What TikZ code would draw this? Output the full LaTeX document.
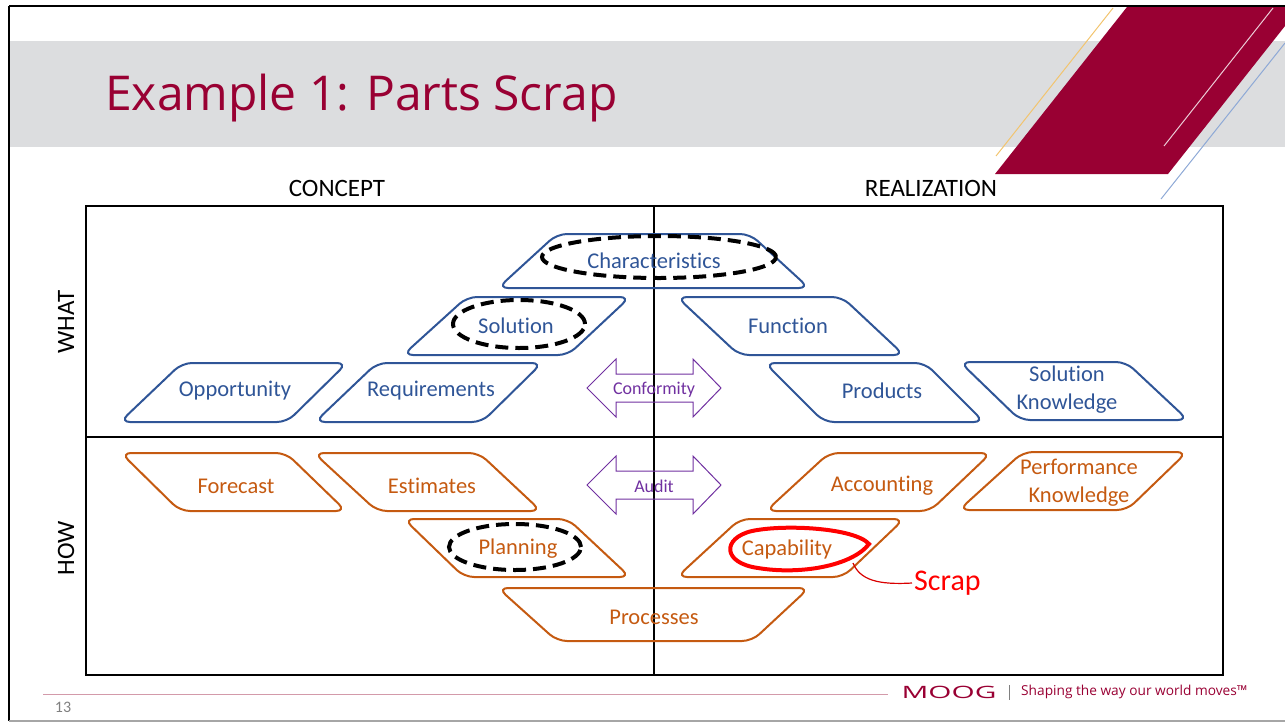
\documentclass[tikz,border=0pt]{standalone}
\usepackage{fontspec}
\setmainfont{Carlito}[Ligatures=NoCommon]
\newfontfamily\osans{Open Sans}
\definecolor{myblue}{HTML}{2F5597}
\definecolor{myorange}{HTML}{C55A11}
\definecolor{mypurple}{HTML}{7030A0}
\definecolor{crimson}{HTML}{990033}
\definecolor{bandgray}{HTML}{DCDDDF}
\definecolor{gold}{HTML}{F2C46E}
\definecolor{lblue}{HTML}{8EA9D6}
\definecolor{footpink}{HTML}{D39AAA}
\tikzset{
  bshape/.style={draw=myblue, line width=2pt, rounded corners=10pt},
  oshape/.style={draw=myorange, line width=2pt, rounded corners=10pt},
  lbl/.style={font=\fontsize{22.5}{28}\selectfont, align=center, inner sep=1pt},
  btext/.style={lbl, text=myblue},
  otext/.style={lbl, text=myorange},
  dashell/.style={draw=black, line width=4pt, dash pattern=on 13pt off 7pt},
  dblarrow/.style={draw=mypurple, line width=1pt},
  atext/.style={font=\fontsize{18}{20}\selectfont, text=mypurple, inner sep=0pt},
  axis/.style={font=\fontsize{25}{28}\selectfont, text=black},
}
\begin{document}
\begin{tikzpicture}[x=1pt,y=-1pt]
\useasboundingbox (0,0) rectangle (1285,723);
% header band
\fill[bandgray] (10,41) rectangle (1285,147);
% frame
\draw[black, line width=2.5pt] (9,6) -- (1285,6);
\draw[black, line width=2.5pt] (9,6) -- (9,721);
\draw[gray!70, line width=1.2pt] (9,721) -- (1285,721);
% corner decoration
\draw[gold, line width=1pt] (996,156) -- (1113,8);
\fill[crimson] (995,174) -- (1127,7) -- (1300,7) -- (1168,174) -- cycle;
\draw[white!80!crimson, line width=1pt] (1164,146) -- (1273,8);
\draw[lblue, line width=1pt] (1161,199) -- (1285,43);
% title
\node[anchor=base west, inner sep=0pt, text=crimson, font=\osans\fontsize{48}{54}\selectfont] (title) at (105,110) {Example 1: Parts Scrap};
% axis labels
\node[axis] (concept) at (337,188) {CONCEPT};
\node[axis] (realization) at (931,188) {REALIZATION};
\node[axis, rotate=90] (what) at (66,322) {WHAT};
\node[axis, rotate=90] (how) at (66,548) {HOW};
% main box
\draw[black, line width=1.3pt] (86,206) rectangle (1223,675);
\draw[black, line width=1.3pt] (654,206) -- (654,675);
\draw[black, line width=1.3pt] (86,437) -- (1223,437);
% blue shapes
\draw[bshape] (557,234) -- (750,234) -- (809,288) -- (498,288) -- cycle;
\draw[bshape] (467,297) -- (630,297) -- (568,355) -- (403,355) -- cycle;
\draw[bshape] (677,297) -- (842,297) -- (904,355) -- (739,355) -- cycle;
\draw[bshape] (182,363) -- (347,363) -- (287,422) -- (120,422) -- cycle;
\draw[bshape] (377,363) -- (542,363) -- (482,422) -- (315,422) -- cycle;
\draw[bshape] (765,363) -- (925,363) -- (984,422) -- (824,422) -- cycle;
\draw[bshape] (960,362) -- (1126,362) -- (1188,420) -- (1020,420) -- cycle;
\node[btext] (characteristics) at (654,261) {Characteristics};
\node[btext] (solution) at (516,326) {Solution};
\node[btext] (function) at (788,326) {Function};
\node[btext] (opportunity) at (235,391) {Opportunity};
\node[btext] (requirements) at (431,391) {Requirements};
\node[btext] (products) at (882,391) {Products};
\node[btext] (solknow) at (1067,390) {Solution\\Knowledge};
% orange shapes
\draw[oshape] (121,453) -- (286,453) -- (346,511) -- (180,511) -- cycle;
\draw[oshape] (314,453) -- (479,453) -- (541,511) -- (377,511) -- cycle;
\draw[oshape] (404,519) -- (568,519) -- (630,577) -- (464,577) -- cycle;
\draw[oshape] (829,453) -- (991,453) -- (930,511) -- (766,511) -- cycle;
\draw[oshape] (1023,452) -- (1187,452) -- (1127,510) -- (959,510) -- cycle;
\draw[oshape] (740,519) -- (904,519) -- (843,577) -- (677,577) -- cycle;
\draw[oshape] (498,588) -- (809,588) -- (752,641) -- (557,641) -- cycle;
\node[otext] (forecast) at (236,486) {Forecast};
\node[otext] (estimates) at (432,486) {Estimates};
\node[otext] (planning) at (518,549) {Planning};
\node[otext] (accounting) at (882,486) {Accounting};
\node[otext] (perfknow) at (1079,483) {Performance\\Knowledge};
\node[otext] (capability) at (787,549) {Capability};
\node[otext] (processes) at (654,617) {Processes};
% dashed ellipses
\draw[dashell] (659,257) ellipse [x radius=117pt, y radius=21pt];
\draw[dashell] (519,324) ellipse [x radius=66pt, y radius=24pt];
\draw[dashell] (515,547) ellipse [x radius=66pt, y radius=23pt];
% double arrows
\draw[dblarrow] (587,388) -- (616,359) -- (616,374) -- (693,374) -- (693,359) -- (721,388) -- (693,417) -- (693,402) -- (616,402) -- (616,417) -- cycle;
\node[atext] (conformity) at (654,390) {Conformity};
\draw[dblarrow] (587,485) -- (616,456) -- (616,471) -- (693,471) -- (693,456) -- (721,485) -- (693,514) -- (693,499) -- (616,499) -- (616,514) -- cycle;
\node[atext] (audit) at (654,486) {Audit};
% red highlight
\draw[red, line width=4pt] (869,544) .. controls (855,528) and (785,524) .. (752,531)
  .. controls (722,538) and (722,563) .. (758,568)
  .. controls (800,575) and (852,566) .. (869,544) -- cycle;
\coordinate (captail) at (853,563);
\node[text=red, font=\fontsize{30}{32}\selectfont, anchor=west, inner sep=2pt] (scrap) at (912,583) {Scrap};
\draw[red!85!black, line width=1.2pt] (captail) .. controls (860,580) and (878,585) .. (scrap.west);
% footer
\draw[footpink, line width=1pt] (43,694) -- (888,694);
\node[text=gray, font=\fontsize{16}{18}\selectfont] (pagenum) at (63,707) {13};
\node[text=crimson, font=\osans\fontsize{17}{18}\selectfont, xscale=1.75, inner sep=0pt] (moog) at (949,692) {MOOG};
\draw[gray, line width=0.8pt] (1009,685) -- (1009,700);
\node[anchor=west, text=crimson, font=\osans\fontsize{13.7}{15}\selectfont, inner sep=0pt] (slogan) at (1021,692) {Shaping the way our world moves™};
\end{tikzpicture}
\end{document}
